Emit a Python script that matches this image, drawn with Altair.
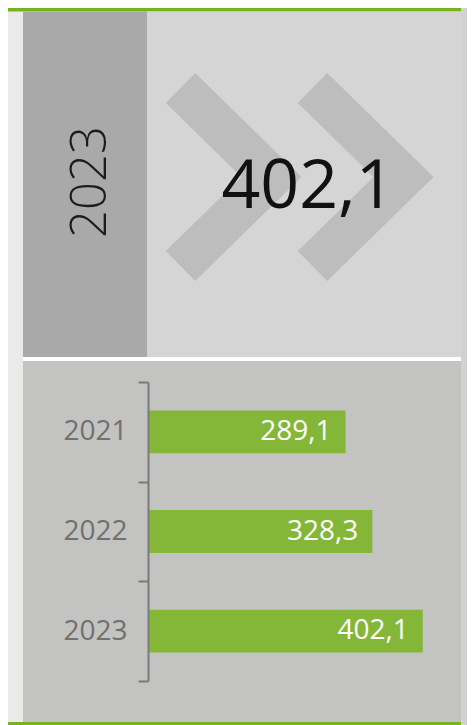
import altair as alt
import pandas as pd

# ---- data ----
years = ["2021", "2022", "2023"]
values = [289.1, 328.3, 402.1]
labels = [f"{v:.1f}".replace(".", ",") for v in values]

# decorative chevrons (pixel space of the chart)
chev_id = ["a", "a", "a", "b", "b", "b"]
chev_order = [0, 1, 2, 0, 1, 2]
chev_px = [172.5, 263.5, 172.5, 304.5, 395.5, 304.5]
chev_py = [80, 169, 258, 80, 169, 258]

W, H = 459, 717

bars_df = pd.DataFrame({"year": years, "value": values, "label": labels})
hl_df = pd.DataFrame({"year": [years[-1]], "label": [labels[-1]]})
chev_df = pd.DataFrame({"id": chev_id, "o": chev_order, "px": chev_px, "py": chev_py})

one = pd.DataFrame({"k": [0]})


def rect(x, x2, y, y2, color):
    return alt.Chart(one).mark_rect(color=color).encode(
        x=alt.value(x), x2=alt.value(x2), y=alt.value(y), y2=alt.value(y2)
    )


backgrounds = [
    rect(453, W, 0, H, "#d2d2d2"),
    rect(0, 453, 0, 3.5, "#77b31f"),
    rect(15, 139, 3.5, 349, "#a9a9a9"),
    rect(139, 453, 3.5, 349, "#d5d5d5"),
    rect(15, 453, 349, 353, "#ffffff"),
    rect(15, 453, 353, 714, "#c3c3c2"),
    rect(0, 453, 714, H, "#77b31f"),
]

chevrons = alt.Chart(chev_df).mark_line(
    color="#bdbdbd", strokeWidth=42, strokeCap="butt", strokeJoin="miter"
).encode(
    x=alt.X("px:Q", scale=alt.Scale(domain=[0, W], range=[0, W]), axis=None),
    y=alt.Y("py:Q", scale=alt.Scale(domain=[0, H], range=[0, H]), axis=None),
    detail="id:N",
    order="o:Q",
)

big_text = alt.Chart(hl_df).mark_text(
    font="Open Sans", fontSize=68, color="#111111", align="center", baseline="alphabetic"
).encode(x=alt.value(300), y=alt.value(200), text="label:N")

year_text = alt.Chart(hl_df).mark_text(
    font="Open Sans", fontWeight=300, fontSize=49, color="#1c1c1c",
    align="center", baseline="middle", angle=270
).encode(x=alt.value(83), y=alt.value(174), text="year:N")

y_scale = alt.Scale(domain=years, range=[374, 673], paddingInner=0, paddingOuter=0)
x_scale = alt.Scale(domain=[0, 450], range=[140, 447.5])

bars = alt.Chart(bars_df).mark_bar(color="#84b737", height={"band": 0.43}).encode(
    y=alt.Y(
        "year:N",
        scale=y_scale,
        axis=alt.Axis(
            title=None, orient="left", offset=-140, tickBand="extent",
            tickSize=10, tickWidth=2, domainWidth=2,
            domainColor="#7a7a7a", tickColor="#7a7a7a",
            labelFont="Open Sans", labelFontSize=28, labelColor="#707070",
            labelPadding=11, zindex=1, grid=False,
        ),
    ),
    x=alt.X("value:Q", scale=x_scale, axis=None),
)

bar_labels = alt.Chart(bars_df).mark_text(
    font="Open Sans", fontSize=28, color="#ffffff", align="right", baseline="middle", dx=-14
).encode(
    y=alt.Y("year:N", scale=y_scale, axis=None),
    x=alt.X("value:Q", scale=x_scale, axis=None),
    text="label:N",
)

chart = alt.layer(
    *backgrounds, chevrons, big_text, year_text, bars, bar_labels
).resolve_scale(x="independent", y="independent").properties(
    width=W, height=H, padding=0, autosize=alt.AutoSizeParams(type="none"),
    background="#ebeae8",
).configure_view(stroke=None)

chart.save("out.html", embed_options={"renderer": "svg", "actions": False})
